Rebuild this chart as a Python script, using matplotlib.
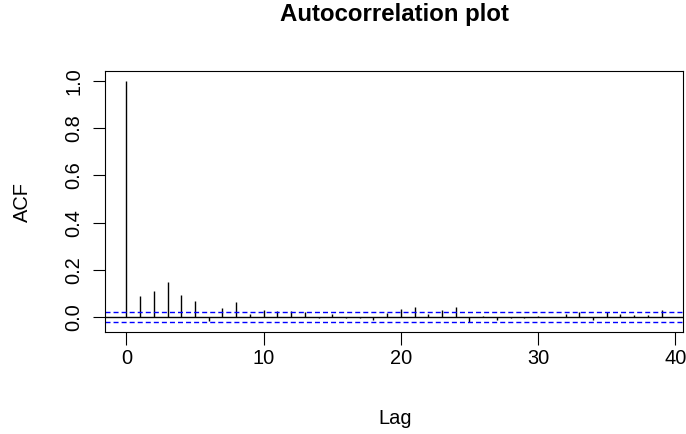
import matplotlib
matplotlib.use("Agg")
import matplotlib.pyplot as plt

plt.rcParams['font.family'] = ['Liberation Sans', 'DejaVu Sans']

lags = list(range(0, 40))
acf_values = [1.000, 0.090, 0.111, 0.150, 0.094, 0.069, -0.017, 0.038, 0.065, 0.015,
              0.031, 0.028, 0.027, 0.022, -0.004, 0.014, -0.003, -0.003, -0.010, 0.020,
              0.034, 0.045, 0.013, 0.030, 0.042, -0.020, 0.006, -0.013, -0.003, -0.004,
              0.007, 0.003, 0.015, 0.021, -0.011, 0.021, 0.015, 0.011, 0.011, 0.030]
ci_bound = 0.021
x_ticks = [0, 10, 20, 30, 40]
y_ticks = [0.0, 0.2, 0.4, 0.6, 0.8, 1.0]
y_tick_labels = ["0.0", "0.2", "0.4", "0.6", "0.8", "1.0"]

W, H = 686, 434
fig = plt.figure(figsize=(W / 100, H / 100), dpi=100)
left, right, top, bottom = 105, 683, 71, 332
ax = fig.add_axes([left / W, 1 - bottom / H, (right - left) / W, (bottom - top) / H])

ax.vlines(lags, 0, acf_values, colors='black', linewidth=1.0)
ax.axhline(0, color='black', linewidth=1.0)
ax.axhline(ci_bound, color='blue', linestyle=(0, (3.6, 2.2)), linewidth=1.0)
ax.axhline(-ci_bound, color='blue', linestyle=(0, (3.6, 2.2)), linewidth=1.0)

xmin, xmax = 0, max(lags)
xr = xmax - xmin
ax.set_xlim(xmin - 0.04 * xr, xmax + 0.04 * xr)
ymin, ymax = -ci_bound, 1.0
yr = ymax - ymin
ax.set_ylim(ymin - 0.04 * yr, ymax + 0.04 * yr)

ax.set_xticks(x_ticks)
ax.set_yticks(y_ticks)
ax.set_yticklabels(y_tick_labels, rotation=90, va='center')
ax.tick_params(direction='out', length=9, width=0.8, labelsize=14.4)
ax.tick_params(axis='x', pad=3.5)
ax.tick_params(axis='y', pad=6.5)
for s in ax.spines.values():
    s.set_linewidth(0.8)

ax.set_xlabel("Lag", fontsize=14.4, va='center')
ax.xaxis.set_label_coords((395 - left) / (right - left), (bottom - 418) / (bottom - top))
ax.set_ylabel("ACF", fontsize=14.4, va='center')
ax.yaxis.set_label_coords((22 - left) / (right - left), (bottom - 202) / (bottom - top))
fig.text(395 / W, 1 - 15 / H, "Autocorrelation plot",
         ha='center', va='center', fontsize=17.3, fontweight='bold')

fig.savefig("out.png", dpi=100)
